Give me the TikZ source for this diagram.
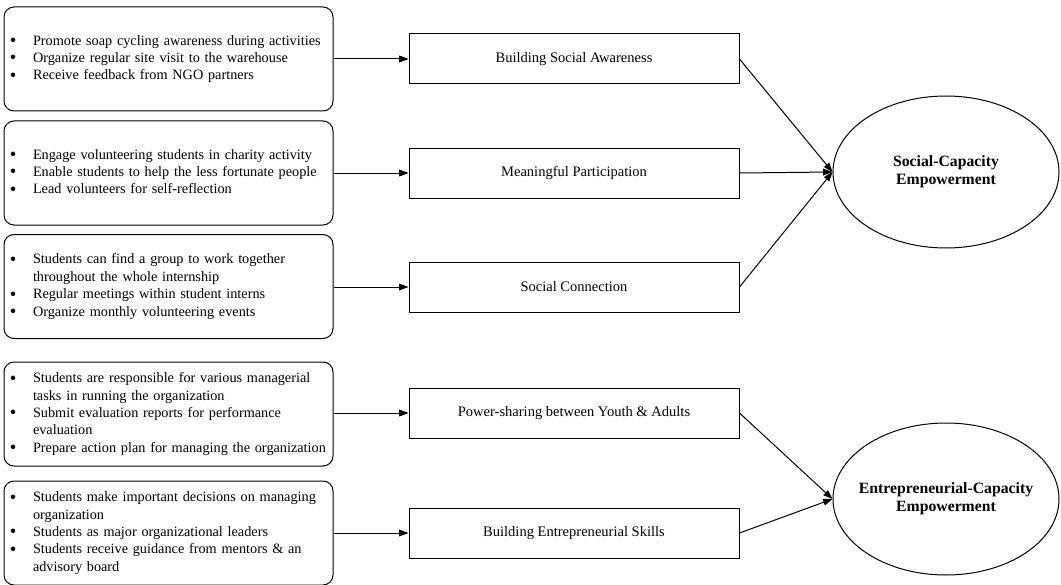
\documentclass[tikz,border=0pt]{standalone}
\usepackage{fontspec}
\setmainfont{Liberation Serif}
\usetikzlibrary{arrows.meta,shapes.geometric}

\tikzset{every picture/.style={line width=0.75pt}}
\tikzset{
  actbox/.style={draw, rounded corners=7.5pt, minimum width=246.75pt, minimum height=78pt,
    text width=239.25pt, inner xsep=3.75pt, inner ysep=0pt, align=left,
    font=\fontsize{10.7}{13.1}\selectfont},
  dimbox/.style={draw, minimum width=247.5pt, minimum height=37.5pt, inner sep=0pt,
    font=\fontsize{10.9}{12.6}\selectfont},
  goal/.style={draw, ellipse, minimum width=169.5pt, minimum height=114pt,
    inner xsep=-30pt, inner ysep=0pt,
    align=center, font=\fontsize{11.8}{13.5}\selectfont\bfseries},
  link/.style={-{Triangle[length=7pt,width=5pt]}}
}
\newcommand{\bul}[1]{\hspace*{0.6pt}\raisebox{-1.1pt}{\fontsize{14}{13.1}\selectfont\textbullet} & #1\\}
\newcommand{\cont}[1]{ & #1\\}

\begin{document}
\begin{tikzpicture}[x=0.75pt,y=0.75pt,yscale=-1,xscale=1]
\useasboundingbox (0,0) rectangle (1061,585);

% Activity Boxes
\node[actbox] (act1) at (168.5,59) {\begin{tabular}{@{}p{18pt}@{}l@{}}
\bul{Promote soap cycling awareness during activities}
\bul{Organize regular site visit to the warehouse}
\bul{Receive feedback from NGO partners}
\end{tabular}};
\node[actbox] (act2) at (168.5,173) {\begin{tabular}{@{}p{18pt}@{}l@{}}
\bul{Engage volunteering students in charity activity}
\bul{Enable students to help the less fortunate people}
\bul{Lead volunteers for self-reflection}
\end{tabular}};
\node[actbox] (act3) at (168.5,286.5) {\begin{tabular}{@{}p{18pt}@{}l@{}}
\bul{Students can find a group to work together}
\cont{throughout the whole internship}
\bul{Regular meetings within student interns}
\bul{Organize monthly volunteering events}
\end{tabular}};
\node[actbox] (act4) at (168.5,414) {\begin{tabular}{@{}p{18pt}@{}l@{}}
\bul{Students are responsible for various managerial}
\cont{tasks in running the organization}
\bul{Submit evaluation reports for performance}
\cont{evaluation}
\bul{Prepare action plan for managing the organization}
\end{tabular}};
\node[actbox] (act5) at (168.5,533) {\begin{tabular}{@{}p{18pt}@{}l@{}}
\bul{Students make important decisions on managing}
\cont{organization}
\bul{Students as major organizational leaders}
\bul{Students receive guidance from mentors \& an}
\cont{advisory board}
\end{tabular}};

% Dimension Boxes
\node[dimbox] (dim1) at (574,59) {Building Social Awareness};
\node[dimbox] (dim2) at (574,173) {Meaningful Participation};
\node[dimbox] (dim3) at (574,287) {Social Connection};
\node[dimbox] (dim4) at (574,413) {Power-sharing between Youth \& Adults};
\node[dimbox] (dim5) at (574,533) {Building Entrepreneurial Skills};

% Outcome Ellipses
\node[goal] (soc) at (946,172) {Social-Capacity\\Empowerment};
\node[goal] (ent) at (946,499) {Entrepreneurial-Capacity\\Empowerment};

% Arrows
\draw[link] (act1.east |- dim1) -- (dim1);
\draw[link] (act2.east |- dim2) -- (dim2);
\draw[link] (act3.east |- dim3) -- (dim3);
\draw[link] (act4.east |- dim4) -- (dim4);
\draw[link] (act5.east |- dim5) -- (dim5);

\draw[link] (dim1.east) -- (soc.west);
\draw[link] (dim2.east) -- (soc.west);
\draw[link] (dim3.east) -- (soc.west);
\draw[link] (dim4.east) -- (ent.west);
\draw[link] (dim5.east) -- (ent.west);

\end{tikzpicture}
\end{document}
